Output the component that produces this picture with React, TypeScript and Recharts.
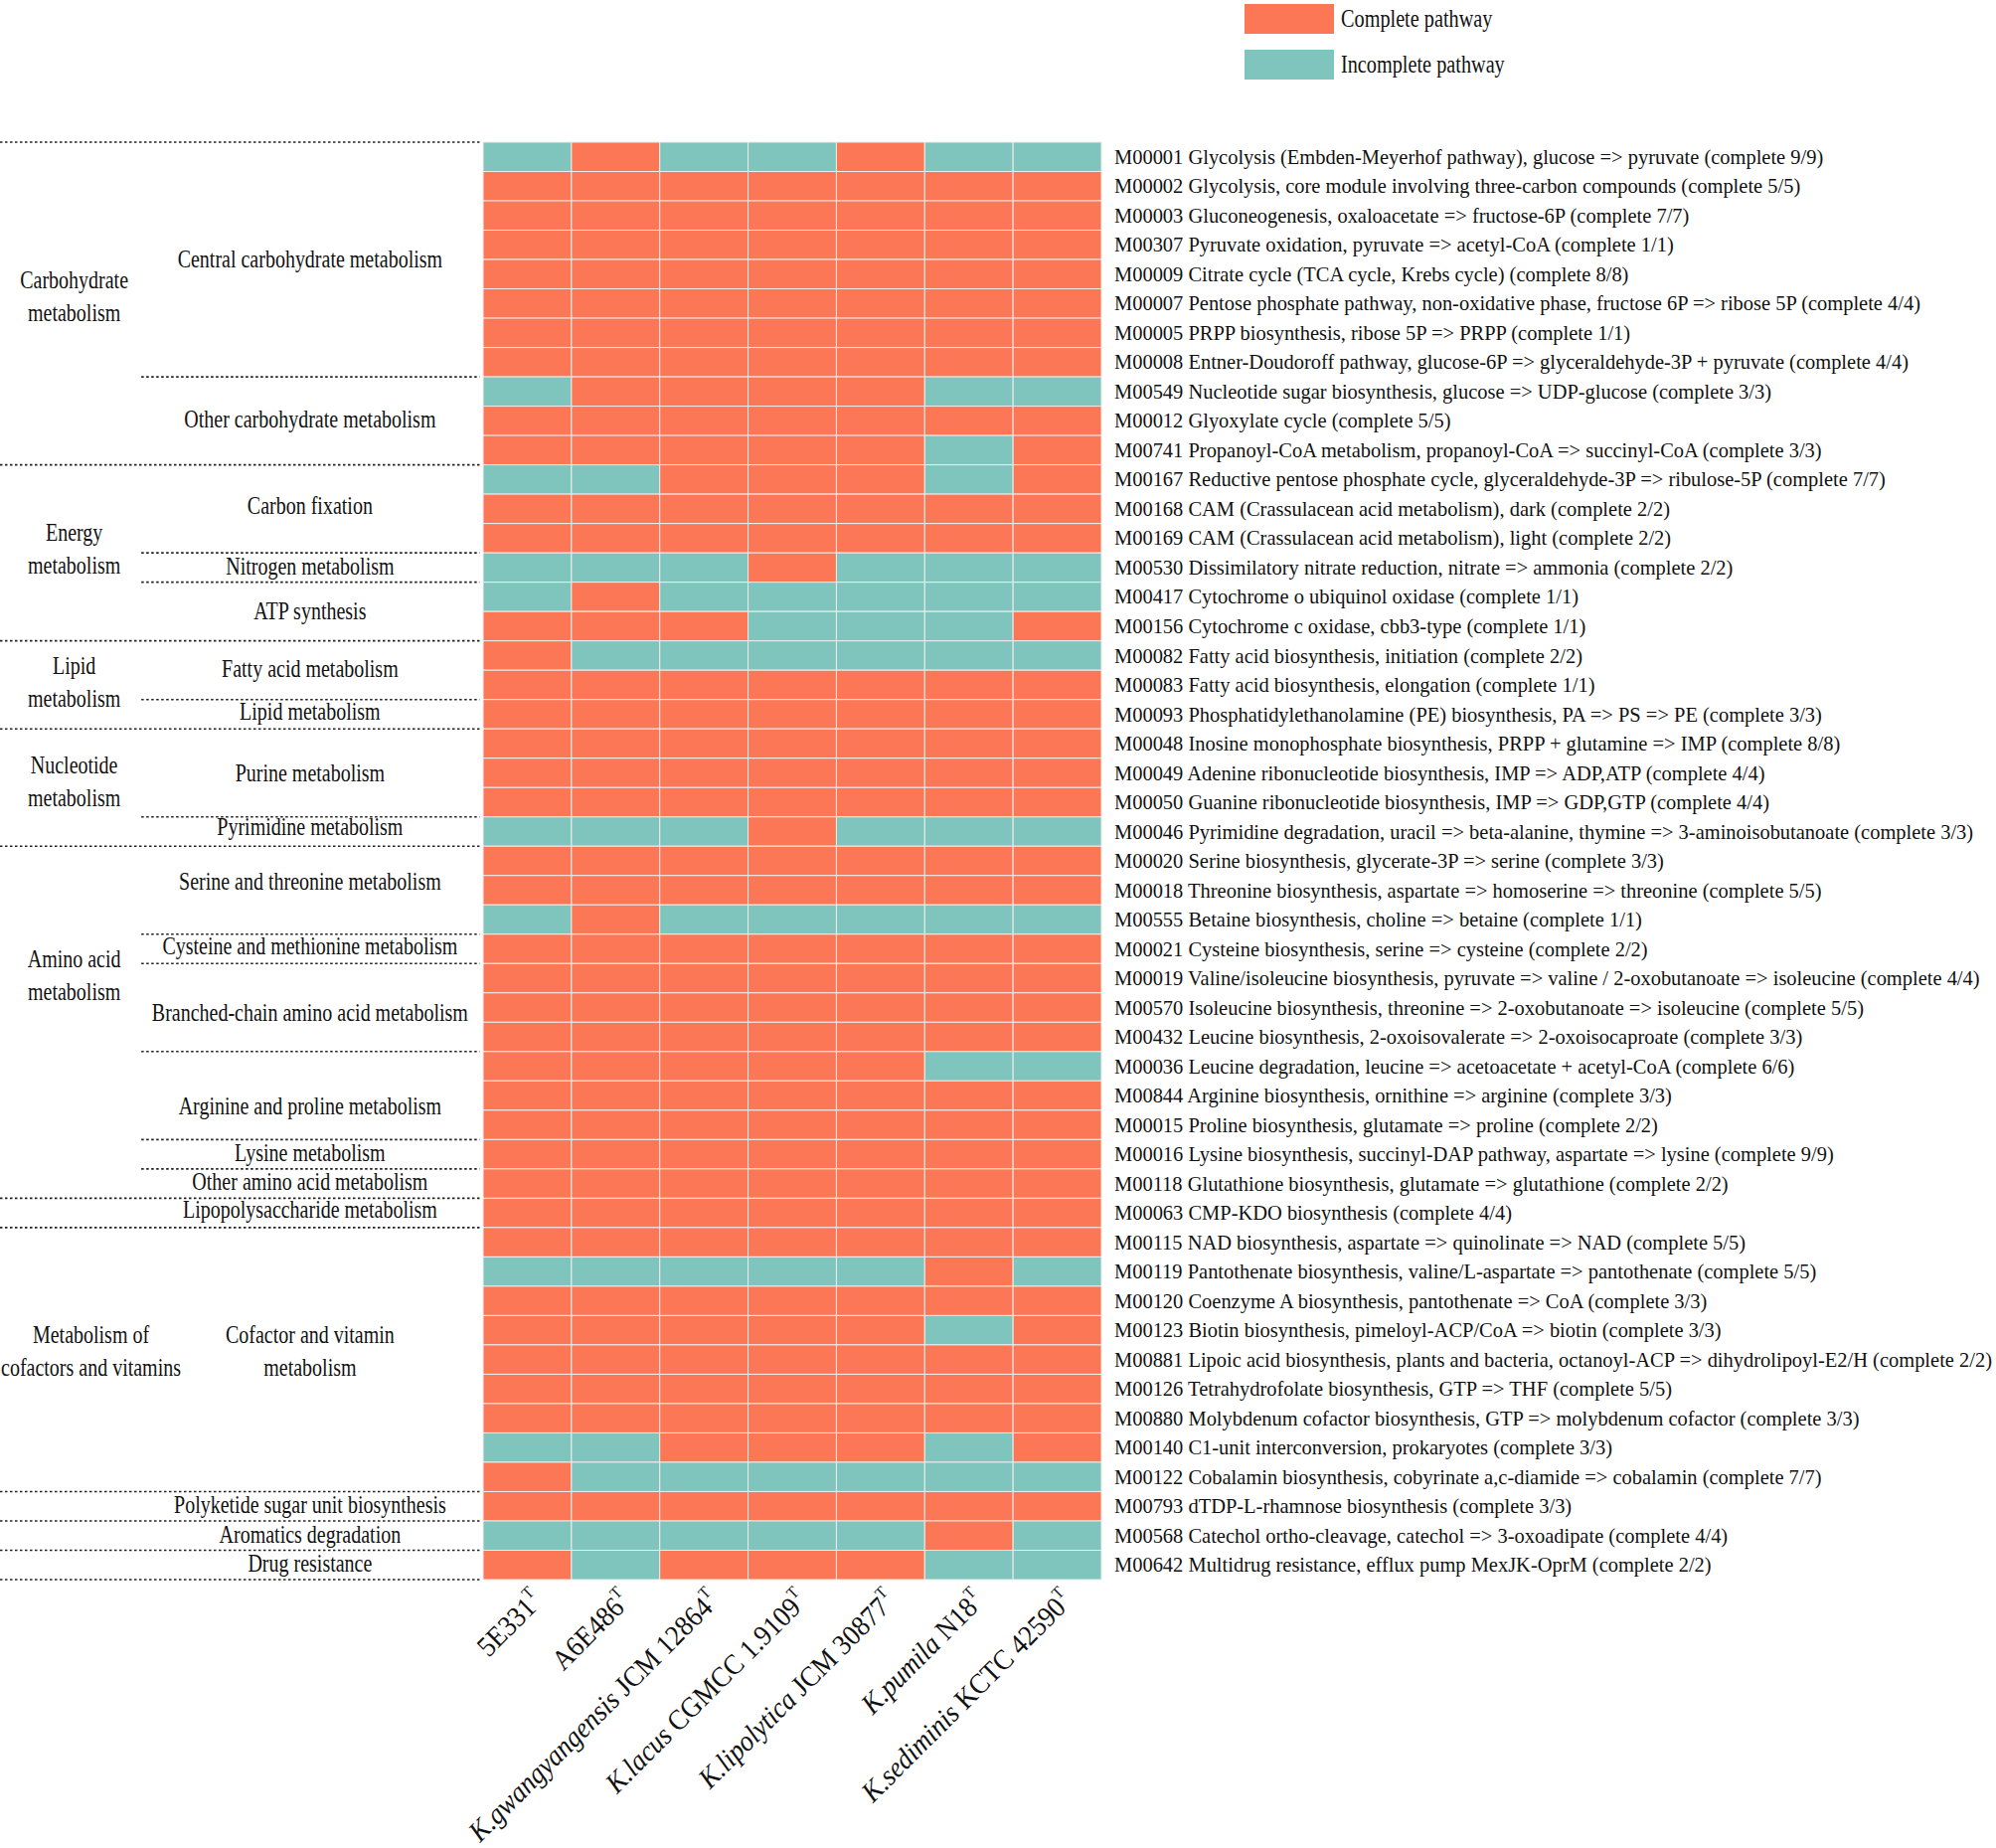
import {
  ComposedChart,
  XAxis,
  YAxis,
  ReferenceArea,
  ReferenceLine,
  ReferenceDot,
  Legend,
} from "recharts";

// strains (columns), italic genus part + plain tail, all type strains (superscript T)
const strainItalic = ["", "", "K.gwangyangensis", "K.lacus", "K.lipolytica", "K.pumila", "K.sediminis"];
const strainTail = ["5E331", "A6E486", " JCM 12864", " CGMCC 1.9109", " JCM 30877", " N18", " KCTC 42590"];

// KEGG modules (rows, top to bottom)
const modules = [
  "M00001 Glycolysis (Embden-Meyerhof pathway), glucose => pyruvate (complete 9/9)",
  "M00002 Glycolysis, core module involving three-carbon compounds (complete 5/5)",
  "M00003 Gluconeogenesis, oxaloacetate => fructose-6P (complete 7/7)",
  "M00307 Pyruvate oxidation, pyruvate => acetyl-CoA (complete 1/1)",
  "M00009 Citrate cycle (TCA cycle, Krebs cycle) (complete 8/8)",
  "M00007 Pentose phosphate pathway, non-oxidative phase, fructose 6P => ribose 5P (complete 4/4)",
  "M00005 PRPP biosynthesis, ribose 5P => PRPP (complete 1/1)",
  "M00008 Entner-Doudoroff pathway, glucose-6P => glyceraldehyde-3P + pyruvate (complete 4/4)",
  "M00549 Nucleotide sugar biosynthesis, glucose => UDP-glucose (complete 3/3)",
  "M00012 Glyoxylate cycle (complete 5/5)",
  "M00741 Propanoyl-CoA metabolism, propanoyl-CoA => succinyl-CoA (complete 3/3)",
  "M00167 Reductive pentose phosphate cycle, glyceraldehyde-3P => ribulose-5P (complete 7/7)",
  "M00168 CAM (Crassulacean acid metabolism), dark (complete 2/2)",
  "M00169 CAM (Crassulacean acid metabolism), light (complete 2/2)",
  "M00530 Dissimilatory nitrate reduction, nitrate => ammonia (complete 2/2)",
  "M00417 Cytochrome o ubiquinol oxidase (complete 1/1)",
  "M00156 Cytochrome c oxidase, cbb3-type (complete 1/1)",
  "M00082 Fatty acid biosynthesis, initiation (complete 2/2)",
  "M00083 Fatty acid biosynthesis, elongation (complete 1/1)",
  "M00093 Phosphatidylethanolamine (PE) biosynthesis, PA => PS => PE (complete 3/3)",
  "M00048 Inosine monophosphate biosynthesis, PRPP + glutamine => IMP (complete 8/8)",
  "M00049 Adenine ribonucleotide biosynthesis, IMP => ADP,ATP (complete 4/4)",
  "M00050 Guanine ribonucleotide biosynthesis, IMP => GDP,GTP (complete 4/4)",
  "M00046 Pyrimidine degradation, uracil => beta-alanine, thymine => 3-aminoisobutanoate (complete 3/3)",
  "M00020 Serine biosynthesis, glycerate-3P => serine (complete 3/3)",
  "M00018 Threonine biosynthesis, aspartate => homoserine => threonine (complete 5/5)",
  "M00555 Betaine biosynthesis, choline => betaine (complete 1/1)",
  "M00021 Cysteine biosynthesis, serine => cysteine (complete 2/2)",
  "M00019 Valine/isoleucine biosynthesis, pyruvate => valine / 2-oxobutanoate => isoleucine (complete 4/4)",
  "M00570 Isoleucine biosynthesis, threonine => 2-oxobutanoate => isoleucine (complete 5/5)",
  "M00432 Leucine biosynthesis, 2-oxoisovalerate => 2-oxoisocaproate (complete 3/3)",
  "M00036 Leucine degradation, leucine => acetoacetate + acetyl-CoA (complete 6/6)",
  "M00844 Arginine biosynthesis, ornithine => arginine (complete 3/3)",
  "M00015 Proline biosynthesis, glutamate => proline (complete 2/2)",
  "M00016 Lysine biosynthesis, succinyl-DAP pathway, aspartate => lysine (complete 9/9)",
  "M00118 Glutathione biosynthesis, glutamate => glutathione (complete 2/2)",
  "M00063 CMP-KDO biosynthesis (complete 4/4)",
  "M00115 NAD biosynthesis, aspartate => quinolinate => NAD (complete 5/5)",
  "M00119 Pantothenate biosynthesis, valine/L-aspartate => pantothenate (complete 5/5)",
  "M00120 Coenzyme A biosynthesis, pantothenate => CoA (complete 3/3)",
  "M00123 Biotin biosynthesis, pimeloyl-ACP/CoA => biotin (complete 3/3)",
  "M00881 Lipoic acid biosynthesis, plants and bacteria, octanoyl-ACP => dihydrolipoyl-E2/H (complete 2/2)",
  "M00126 Tetrahydrofolate biosynthesis, GTP => THF (complete 5/5)",
  "M00880 Molybdenum cofactor biosynthesis, GTP => molybdenum cofactor (complete 3/3)",
  "M00140 C1-unit interconversion, prokaryotes (complete 3/3)",
  "M00122 Cobalamin biosynthesis, cobyrinate a,c-diamide => cobalamin (complete 7/7)",
  "M00793 dTDP-L-rhamnose biosynthesis (complete 3/3)",
  "M00568 Catechol ortho-cleavage, catechol => 3-oxoadipate (complete 4/4)",
  "M00642 Multidrug resistance, efflux pump MexJK-OprM (complete 2/2)",
];

// one string per module, one char per strain: 1 = complete, 0 = incomplete
const completeness = [
  "0100100", "1111111", "1111111", "1111111", "1111111", "1111111", "1111111", "1111111",
  "0111100", "1111111", "1111101",
  "0011101", "1111111", "1111111", "0001000", "0100000", "1110001",
  "1000000", "1111111", "1111111",
  "1111111", "1111111", "1111111", "0001000",
  "1111111", "1111111", "0100000", "1111111", "1111111", "1111111", "1111111",
  "1111100", "1111111", "1111111", "1111111", "1111111",
  "1111111",
  "1111111", "0000010", "1111111", "1111101", "1111111", "1111111", "1111111", "0011101", "1000000",
  "1111111", "0000010", "1011100",
];

// top-level categories: name lines, first row, end row (exclusive), row where the label sits
const categories = [
  { name: ["Carbohydrate", "metabolism"], start: 0, end: 11, at: 5.25 },
  { name: ["Energy", "metabolism"], start: 11, end: 17, at: 13.86 },
  { name: ["Lipid", "metabolism"], start: 17, end: 20, at: 18.4 },
  { name: ["Nucleotide", "metabolism"], start: 20, end: 24, at: 21.8 },
  { name: ["Amino acid", "metabolism"], start: 24, end: 36, at: 28.4 },
  { name: [], start: 36, end: 37, at: 36.5 },
  { name: ["Metabolism of", "cofactors and vitamins"], start: 37, end: 46, at: 41.2, wide: true },
  { name: [], start: 46, end: 47, at: 46.5 },
  { name: [], start: 47, end: 48, at: 47.5 },
  { name: [], start: 48, end: 49, at: 48.5 },
];

const subcategories = [
  { name: ["Central carbohydrate metabolism"], start: 0, end: 8, at: 4.0 },
  { name: ["Other carbohydrate metabolism"], start: 8, end: 11, at: 9.45 },
  { name: ["Carbon fixation"], start: 11, end: 14, at: 12.4 },
  { name: ["Nitrogen metabolism"], start: 14, end: 15, at: 14.45 },
  { name: ["ATP synthesis"], start: 15, end: 17, at: 16.0 },
  { name: ["Fatty acid metabolism"], start: 17, end: 19, at: 17.95 },
  { name: ["Lipid metabolism"], start: 19, end: 20, at: 19.4 },
  { name: ["Purine metabolism"], start: 20, end: 23, at: 21.5 },
  { name: ["Pyrimidine metabolism"], start: 23, end: 24, at: 23.35 },
  { name: ["Serine and threonine metabolism"], start: 24, end: 27, at: 25.2 },
  { name: ["Cysteine and methionine metabolism"], start: 27, end: 28, at: 27.4 },
  { name: ["Branched-chain amino acid metabolism"], start: 28, end: 31, at: 29.66 },
  { name: ["Arginine and proline metabolism"], start: 31, end: 34, at: 32.85 },
  { name: ["Lysine metabolism"], start: 34, end: 35, at: 34.45 },
  { name: ["Other amino acid metabolism"], start: 35, end: 36, at: 35.45 },
  { name: ["Lipopolysaccharide metabolism"], start: 36, end: 37, at: 36.4 },
  { name: ["Cofactor and vitamin", "metabolism"], start: 37, end: 46, at: 41.2 },
  { name: ["Polyketide sugar unit biosynthesis"], start: 46, end: 47, at: 46.45 },
  { name: ["Aromatics degradation"], start: 47, end: 48, at: 47.45 },
  { name: ["Drug resistance"], start: 48, end: 49, at: 48.45 },
];

const legendItems = [
  { label: "Complete pathway", key: "1" },
  { label: "Incomplete pathway", key: "0" },
];

const COLORS: Record<string, string> = { "1": "#FB7755", "0": "#80C5BD" };
const FONT = "'Liberation Serif', 'Times New Roman', serif";

// x units: heatmap columns are 0..7, the label area to the left is negative
const X_MIN = -5.47;
const SUB_X0 = -3.87;
const LINE_X1 = -0.04;
const CAT_LABEL_X = -4.63;
const CAT_LABEL_X_WIDE = -4.44;
const SUB_LABEL_X = -1.96;

const cells = completeness.flatMap((row, r) =>
  row.split("").map((v, c) => ({ row: r, col: c, status: v }))
);

const rowTicks = modules.map((_, i) => i + 0.5);
const colTicks = strainTail.map((_, i) => i + 0.5);

const catBounds = Array.from(new Set(categories.flatMap((g) => [g.start, g.end])));
const subBounds = Array.from(
  new Set(subcategories.flatMap((g) => [g.start, g.end]))
).filter((b) => !catBounds.includes(b));

function GroupText({ cx, cy, lines }: { cx: number; cy: number; lines: string[] }) {
  const lh = 33;
  return (
    <g>
      {lines.map((t, i) => (
        <text
          key={i}
          transform={`translate(${cx},${cy + (i - (lines.length - 1) / 2) * lh}) scale(0.8,1)`}
          textAnchor="middle"
          dominantBaseline="central"
          fontFamily={FONT}
          fontSize={25}
          fill="#111"
        >
          {t}
        </text>
      ))}
    </g>
  );
}

function ModuleTick(props: any) {
  const { x, y, payload } = props;
  const label = modules[Math.floor(payload.value)];
  return (
    <text
      transform={`translate(${x + 13},${y}) scale(0.975,1)`}
      dominantBaseline="central"
      fontFamily={FONT}
      fontSize={21}
      fill="#111"
    >
      {label}
    </text>
  );
}

function StrainTick(props: any) {
  const { x, y, payload } = props;
  const i = Math.floor(payload.value);
  return (
    <g transform={`translate(${x + 17},${y + 23}) rotate(-45) scale(0.92,1)`}>
      <text textAnchor="end" fontFamily={FONT} fontSize={29} fill="#111">
        {strainItalic[i] && <tspan fontStyle="italic">{strainItalic[i]}</tspan>}
        <tspan>{strainTail[i]}</tspan>
        <tspan fontSize={17} dy={-13}>
          T
        </tspan>
      </text>
    </g>
  );
}

function LegendBox() {
  return (
    <div style={{ fontFamily: FONT }}>
      {legendItems.map((item) => (
        <div
          key={item.key}
          style={{ display: "flex", alignItems: "center", height: 30, marginBottom: 16 }}
        >
          <div style={{ width: 90, height: 30, background: COLORS[item.key] }} />
          <span
            style={{
              marginLeft: 7,
              fontSize: 25,
              color: "#111",
              display: "inline-block",
              transform: "scaleX(0.81)",
              transformOrigin: "left center",
              whiteSpace: "nowrap",
            }}
          >
            {item.label}
          </span>
        </div>
      ))}
    </div>
  );
}

export default function App() {
  return (
    <div style={{ position: "absolute", left: 0, top: 0, width: 2008, height: 1859, background: "#fff" }}>
      <ComposedChart
        width={2008}
        height={1859}
        data={cells}
        margin={{ top: 143, right: 10, bottom: 10, left: 0 }}
      >
        <XAxis
          type="number"
          dataKey="col"
          domain={[X_MIN, 7]}
          allowDataOverflow
          ticks={colTicks}
          interval={0}
          height={260}
          axisLine={false}
          tickLine={false}
          tickSize={0}
          tickMargin={0}
          tick={<StrainTick />}
        />
        <YAxis
          type="number"
          dataKey="row"
          orientation="right"
          domain={[0, 49]}
          allowDataOverflow
          reversed
          ticks={rowTicks}
          interval={0}
          width={890}
          axisLine={false}
          tickLine={false}
          tickSize={0}
          tickMargin={0}
          tick={<ModuleTick />}
        />
        {cells.map((d) => (
          <ReferenceArea
            key={`${d.row}-${d.col}`}
            x1={d.col}
            x2={d.col + 1}
            y1={d.row}
            y2={d.row + 1}
            fill={COLORS[d.status]}
            fillOpacity={1}
            stroke="#ececec"
            strokeWidth={1}
            ifOverflow="visible"
          />
        ))}
        {catBounds.map((b) => (
          <ReferenceLine
            key={`c${b}`}
            segment={[{ x: X_MIN, y: b }, { x: LINE_X1, y: b }]}
            stroke="#222"
            strokeWidth={1.6}
            strokeDasharray="2.5 2.5"
            ifOverflow="visible"
          />
        ))}
        {subBounds.map((b) => (
          <ReferenceLine
            key={`s${b}`}
            segment={[{ x: SUB_X0, y: b }, { x: LINE_X1, y: b }]}
            stroke="#222"
            strokeWidth={1.6}
            strokeDasharray="2.5 2.5"
            ifOverflow="visible"
          />
        ))}
        {categories
          .filter((g) => g.name.length > 0)
          .map((g) => (
            <ReferenceDot
              key={g.name.join(" ")}
              x={g.wide ? CAT_LABEL_X_WIDE : CAT_LABEL_X}
              y={g.at}
              r={0}
              ifOverflow="visible"
              shape={(p: any) => <GroupText cx={p.cx} cy={p.cy} lines={g.name} />}
            />
          ))}
        {subcategories.map((g) => (
          <ReferenceDot
            key={g.name.join(" ")}
            x={SUB_LABEL_X}
            y={g.at}
            r={0}
            ifOverflow="visible"
            shape={(p: any) => <GroupText cx={p.cx} cy={p.cy} lines={g.name} />}
          />
        ))}
        <Legend
          verticalAlign="middle"
          layout="horizontal"
          wrapperStyle={{ top: 4, left: 1252, width: 420 }}
          content={() => <LegendBox />}
        />
      </ComposedChart>
    </div>
  );
}
